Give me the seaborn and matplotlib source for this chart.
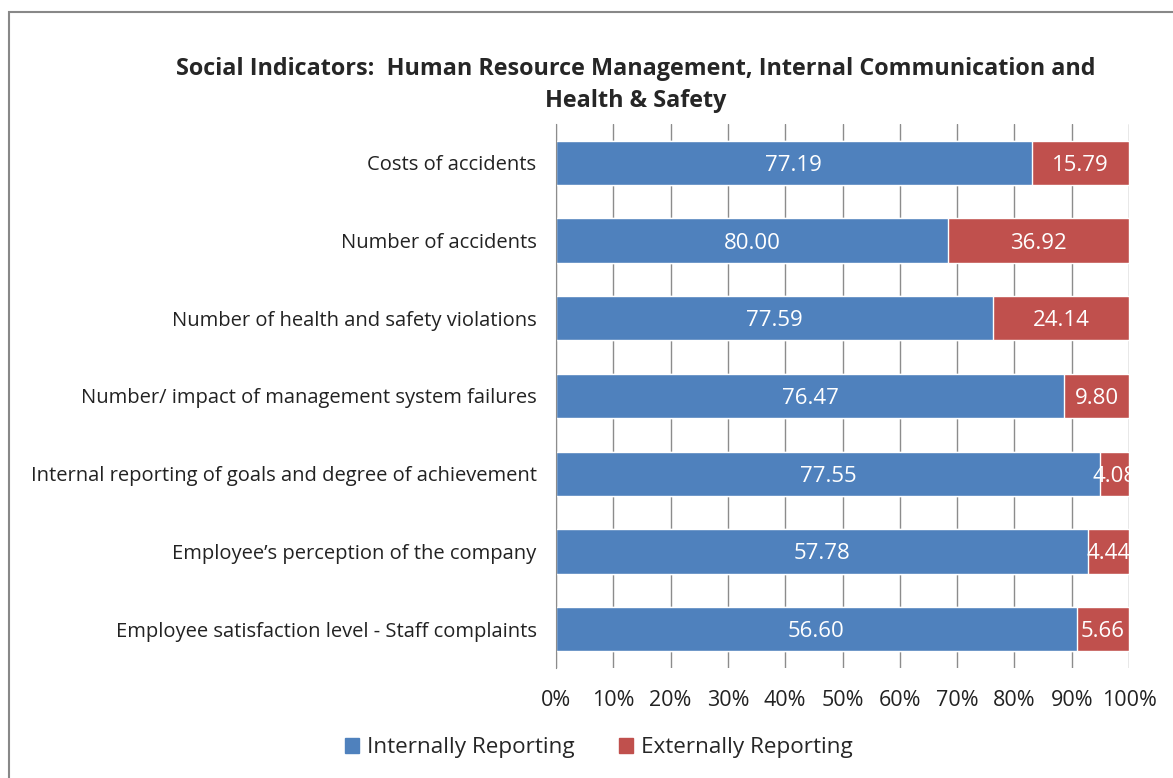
import numpy as np
import pandas as pd
import seaborn as sns
import matplotlib.pyplot as plt
from matplotlib.patches import Rectangle, Patch

sns.set_style("white")
plt.rcParams['font.family'] = ['Open Sans', 'DejaVu Sans']

# data
indicators = [
    "Costs of accidents",
    "Number of accidents",
    "Number of health and safety violations",
    "Number/ impact of management system failures",
    "Internal reporting of goals and degree of achievement",
    "Employee\u2019s perception of the company",
    "Employee satisfaction level - Staff complaints",
]
internally = [77.19, 80.00, 77.59, 76.47, 77.55, 57.78, 56.60]
externally = [15.79, 36.92, 24.14, 9.80, 4.08, 4.44, 5.66]

blue = "#4F81BD"
red = "#C0504D"

df = pd.DataFrame({"Indicator": indicators, "Internal": internally, "External": externally})
df["Total"] = df["Internal"] + df["External"]
df["InternalShare"] = df["Internal"] / df["Total"] * 100
df["Full"] = 100.0

fig = plt.figure(figsize=(11.73, 7.78), dpi=100)
ax = fig.add_axes([556 / 1173, 1 - 668 / 778, (1129 - 556) / 1173, (668 - 124) / 778])

# stacked: full bar in red, internal share over it in blue
sns.barplot(data=df, y="Indicator", x="Full", color=red, orient="h", width=0.57,
            saturation=1, ax=ax)
sns.barplot(data=df, y="Indicator", x="InternalShare", color=blue, orient="h", width=0.57,
            saturation=1, ax=ax)

ax.set_xlim(0, 100)
ax.set_xticks(np.arange(0, 101, 10))
ax.set_xticklabels([f"{v}%" for v in range(0, 101, 10)], fontsize=15.5, color="#222222")
ax.tick_params(axis="x", length=0, pad=16)
ax.tick_params(axis="y", length=0, pad=14, labelsize=14.5, labelcolor="#222222")
ax.set_xlabel("")
ax.set_ylabel("")
ax.xaxis.grid(True, color="#8c8c8c", linewidth=1)
ax.set_axisbelow(True)
for s in ["top", "right", "bottom"]:
    ax.spines[s].set_visible(False)
ax.spines["left"].set_color("#8c8c8c")

# value labels in the middle of each segment
for i, row in df.iterrows():
    share = row["InternalShare"]
    ax.text(share / 2, i, f"{row['Internal']:.2f}", ha="center", va="center_baseline",
            color="white", fontsize=16, clip_on=True)
    ax.text(share + (100 - share) / 2, i, f"{row['External']:.2f}", ha="center",
            va="center_baseline", color="white", fontsize=16, clip_on=True)

fig.text(636 / 1173, 1 - 66 / 778,
         "Social Indicators:  Human Resource Management, Internal Communication and",
         ha="center", va="center_baseline", fontsize=16.8, fontweight="bold")
fig.text(636 / 1173, 1 - 98 / 778, "Health & Safety",
         ha="center", va="center_baseline", fontsize=16.8, fontweight="bold")

handles = [Patch(color=blue, label="Internally Reporting"),
           Patch(color=red, label="Externally Reporting")]
fig.legend(handles=handles, loc="center", bbox_to_anchor=(599 / 1173, 1 - 748 / 778),
           ncol=2, frameon=False, fontsize=16.2, handlelength=0.6, handleheight=0.6,
           handletextpad=0.35, columnspacing=2.0)

# chart border (cut by the picture on the right and bottom)
fig.patches.append(Rectangle((9 / 1173, -0.1), 1.2, 1 - 12 / 778 + 0.1,
                             transform=fig.transFigure, fill=False,
                             edgecolor="#888888", linewidth=1.5))

fig.savefig("out.png", dpi=100)
